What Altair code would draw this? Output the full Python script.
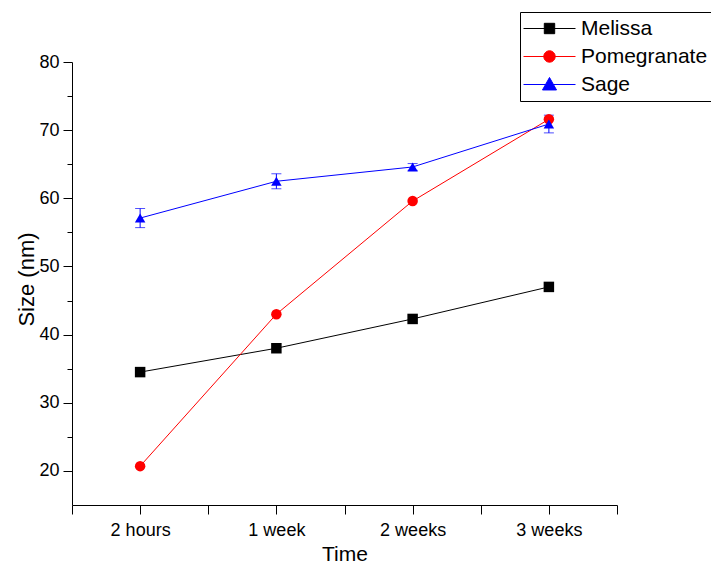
import json
import altair as alt
import pandas as pd

# ---- data ----
categories = ["2 hours", "1 week", "2 weeks", "3 weeks"]
series_names = ["Melissa", "Pomegranate", "Sage"]
melissa = [34.5, 38.0, 42.3, 47.0]
pomegranate = [20.7, 43.0, 59.6, 71.6]
sage = [57.1, 62.5, 64.6, 70.9]
sage_err = [1.4, 1.1, 0.5, 1.3]

colors = ["#000000", "#ff0000", "#0000ff"]
shapes = ["square", "circle", "triangle-up"]
legend_paths = [
    "M-1,0H1M-0.2,-0.2H0.2V0.2H-0.2Z",
    "M-1,0H1M-0.22,0A0.22,0.22 0 1,0 0.22,0A0.22,0.22 0 1,0 -0.22,0Z",
    "M-1,0H1M0,-0.27L0.27,0.21H-0.27Z",
]

values_by_series = [melissa, pomegranate, sage]
rows = []
for si, name in enumerate(series_names):
    for ci, cat in enumerate(categories):
        rows.append({
            "x": ci + 1,
            "y": values_by_series[si][ci],
            "series": name,
            "col": colors[si],
            "shp": shapes[si],
            "err": sage_err[ci] if name == "Sage" else 0.0,
        })
df = pd.DataFrame(rows)
df_err = df[df["series"] == "Sage"]

FONT = "Liberation Sans"

label_expr = ("(datum.value % 1 === 0) ? " + json.dumps(categories)
              + "[datum.value - 1] : ''")

x_axis = alt.Axis(
    values=[0.5, 1, 1.5, 2, 2.5, 3, 3.5, 4, 4.5],
    labelExpr=label_expr,
    title="Time",
    grid=False,
    tickSize=9, tickColor="black", tickWidth=1,
    domainColor="black", domainWidth=1,
    labelFont=FONT, labelFontSize=18, labelColor="black",
    labelBaseline="alphabetic", labelPadding=21,
    titleFont=FONT, titleFontSize=21, titleFontWeight="normal", titleColor="black",
    titleBaseline="alphabetic", titleY=55,
)
x_enc = alt.X("x:Q", scale=alt.Scale(domain=[0.5, 4.5], nice=False, zero=False), axis=x_axis)

y_scale = alt.Scale(domain=[15, 80], nice=False, zero=False)

y_major = alt.Axis(
    values=[20, 30, 40, 50, 60, 70, 80],
    orient="left",
    title="Size (nm)",
    grid=False,
    tickSize=9, tickColor="black", tickWidth=1,
    domainColor="black", domainWidth=1,
    labelFont=FONT, labelFontSize=18, labelColor="black", labelPadding=4,
    titleFont=FONT, titleFontSize=22, titleFontWeight="normal", titleColor="black",
    titleBaseline="alphabetic", titleAngle=270, titleX=-39, titleY=217,
)
y_minor = alt.Axis(
    values=[25, 35, 45, 55, 65, 75],
    orient="left",
    title=None,
    labels=False,
    domain=False,
    grid=False,
    tickSize=5, tickColor="black", tickWidth=1,
)

base = alt.Chart(df)

lines = base.mark_line(strokeWidth=1).encode(
    x=x_enc,
    y=alt.Y("y:Q", scale=y_scale, axis=y_minor),
    color=alt.Color("col:N", scale=None),
    detail="series:N",
)

err_base = alt.Chart(df_err).transform_calculate(
    lo="datum.y - datum.err", hi="datum.y + datum.err"
)
err_rule = err_base.mark_rule(color="#0000ff", strokeWidth=1).encode(
    x=x_enc,
    y=alt.Y("lo:Q", scale=y_scale, axis=None),
    y2="hi:Q",
)
err_lo = err_base.mark_tick(orient="horizontal", size=10, thickness=1, color="#0000ff").encode(
    x=x_enc,
    y=alt.Y("lo:Q", scale=y_scale, axis=None),
)
err_hi = err_base.mark_tick(orient="horizontal", size=10, thickness=1, color="#0000ff").encode(
    x=x_enc,
    y=alt.Y("hi:Q", scale=y_scale, axis=None),
)

points = base.mark_point(filled=True, size=110, opacity=1).encode(
    x=x_enc,
    y=alt.Y("y:Q", scale=y_scale, axis=y_major),
    color=alt.Color("col:N", scale=None),
    shape=alt.Shape("shp:N", scale=None),
)

legend_def = alt.Legend(
    title=None,
    orient="none",
    legendX=448,
    legendY=-50,
    padding=3,
    strokeColor="black",
    fillColor="white",
    symbolSize=2704,
    symbolStrokeWidth=1,
    symbolOpacity=1,
    clipHeight=27,
    rowPadding=1,
    labelOffset=5,
    labelFont=FONT,
    labelFontSize=21,
    labelColor="black",
    labelLimit=0,
)

legend_layer = base.mark_point(filled=True, size=0).encode(
    x=x_enc,
    y=alt.Y("y:Q", scale=y_scale, axis=None),
    fill=alt.Fill("series:N", scale=alt.Scale(domain=series_names, range=colors),
                  legend=legend_def, sort=series_names),
    stroke=alt.Stroke("series:N", scale=alt.Scale(domain=series_names, range=colors),
                      legend=legend_def, sort=series_names),
    shape=alt.Shape("series:N", scale=alt.Scale(domain=series_names, range=legend_paths),
                    legend=legend_def, sort=series_names),
)

chart = alt.layer(
    lines, err_rule, err_lo, err_hi, points, legend_layer
).resolve_axis(
    y="independent"
).properties(
    width=545,
    height=443,
    padding={"left": 64, "top": 54, "right": 94, "bottom": 60},
    autosize=alt.AutoSizeParams(type="none"),
).configure_view(
    stroke=None
)

chart.save("out.html", embed_options={"renderer": "svg", "actions": False})
